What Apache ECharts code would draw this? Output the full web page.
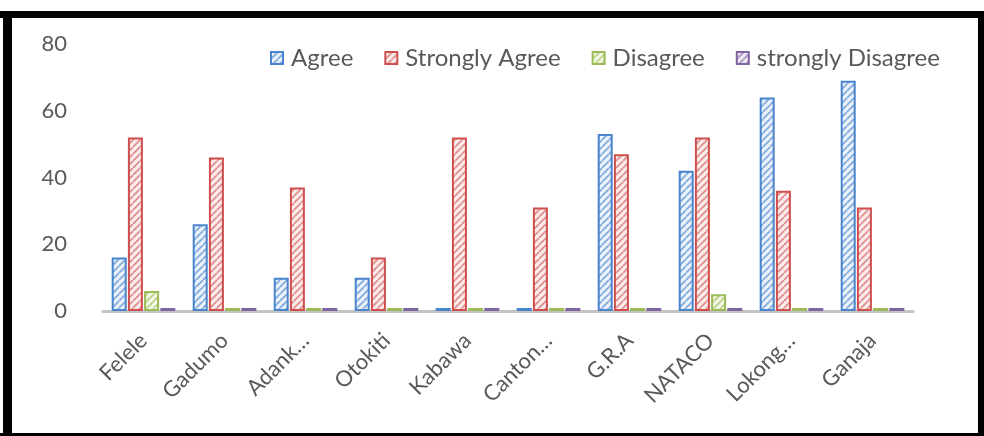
<!DOCTYPE html>
<html>
<head>
<meta charset="utf-8">
<script src="https://cdn.jsdelivr.net/npm/echarts@6/dist/echarts.min.js"></script>
<style>
  html, body { margin: 0; padding: 0; background: #fff; }
  #chart { width: 984px; height: 436px; }
</style>
</head>
<body>
<div id="chart"></div>
<script>
// Survey responses per location
const categories = ['Felele', 'Gadumo', 'Adank…', 'Otokiti', 'Kabawa', 'Canton…', 'G.R.A', 'NATACO', 'Lokong…', 'Ganaja'];
const agree          = [16, 26, 10, 10, 0, 0, 53, 42, 64, 69];
const stronglyAgree  = [52, 46, 37, 16, 52, 31, 47, 52, 36, 31];
const disagree       = [6, 0, 0, 0, 0, 0, 0, 5, 0, 0];
const stronglyDisagree = [0, 0, 0, 0, 0, 0, 0, 0, 0, 0];
const yTicks = [0, 20, 40, 60, 80];

// Diagonal hatch fill for each series colour
function hatch(line, bg) {
  const c = document.createElement('canvas');
  c.width = 7; c.height = 7;
  const g = c.getContext('2d');
  g.fillStyle = bg;
  g.fillRect(0, 0, 7, 7);
  g.strokeStyle = line;
  g.lineWidth = 1.6;
  g.beginPath();
  for (let k = -7; k <= 14; k += 7) {
    g.moveTo(k, 7);
    g.lineTo(k + 7, 0);
  }
  g.stroke();
  return { image: c, repeat: 'repeat' };
}

const palette = [
  { name: 'Agree', border: '#4a84cc', fill: hatch('#7fa9dc', '#eaf1fa'), data: agree },
  { name: 'Strongly Agree', border: '#cf4f4f', fill: hatch('#e08a8a', '#fbecec'), data: stronglyAgree },
  { name: 'Disagree', border: '#9bbb59', fill: hatch('#b9d17f', '#f2f7e6'), data: disagree },
  { name: 'strongly Disagree', border: '#8064a2', fill: hatch('#a690c2', '#efeaf5'), data: stronglyDisagree }
];

const chart = echarts.init(document.getElementById('chart'), null, { renderer: 'canvas' });

chart.setOption({
  animation: false,
  textStyle: { fontFamily: 'Lato, Liberation Sans, sans-serif' },
  legend: {
    top: 41,
    left: 265,
    itemWidth: 12,
    itemHeight: 12,
    itemGap: 31,
    textStyle: { fontSize: 24, color: '#595959', padding: [0, 0, 0, 3] },
    data: palette.map(p => ({ name: p.name, icon: 'rect' }))
  },
  grid: { left: 103, right: 71, top: 44, bottom: 125 },
  xAxis: {
    type: 'category',
    data: categories,
    axisTick: { show: false },
    axisLine: { lineStyle: { color: '#c4c4c4', width: 3 } },
    axisLabel: {
      interval: 0,
      rotate: 45,
      fontSize: 22,
      color: '#595959',
      margin: 26
    }
  },
  yAxis: {
    type: 'value',
    min: yTicks[0],
    max: yTicks[yTicks.length - 1],
    interval: 20,
    splitLine: { show: false },
    axisLine: { show: false },
    axisTick: { show: false },
    axisLabel: { fontSize: 22, color: '#595959', margin: 36 }
  },
  series: palette.map(p => ({
    name: p.name,
    type: 'bar',
    data: p.data,
    barWidth: 15,
    barGap: '8%',
    barMinHeight: 3,
    itemStyle: {
      color: p.fill,
      borderColor: p.border,
      borderWidth: 2
    }
  })),
  graphic: [
    // frame around the chart
    { type: 'rect', shape: { x: 0, y: 11, width: 984, height: 7 }, style: { fill: '#000' } },
    { type: 'rect', shape: { x: 3, y: 11, width: 9, height: 425 }, style: { fill: '#000' } },
    { type: 'rect', shape: { x: 978, y: 11, width: 6, height: 425 }, style: { fill: '#000' } },
    { type: 'rect', shape: { x: 0, y: 433, width: 984, height: 3 }, style: { fill: '#000' } }
  ]
});
</script>
</body>
</html>
